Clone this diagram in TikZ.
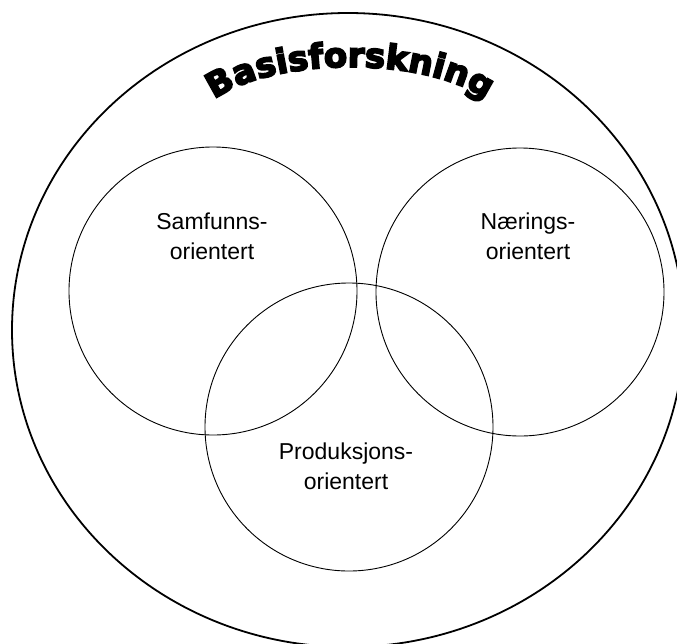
\documentclass[tikz,border=0pt]{standalone}
\usepackage{fontspec}
\setmainfont{Liberation Sans}
\newfontfamily\archfont{DejaVu Sans}[BoldFeatures={FakeBold=5}]
\usetikzlibrary{decorations.text}
\begin{document}
\begin{tikzpicture}[x=1pt,y=-1pt,
  outer/.style={line width=1.8pt},
  field/.style={circle, draw, line width=0.9pt, minimum size=288pt, inner sep=0pt},
  caption/.style={align=center, font=\fontsize{23}{30}\selectfont}]
\useasboundingbox (0,0) rectangle (677,643);
\clip (0,0) rectangle (677,643);
\fill[white] (0,0) rectangle (677,643);

% outer field: basic research
\draw[outer] (348,330) ellipse [x radius=336, y radius=317];

% arched title
\path[decorate, decoration={text along path, text align=center,
  text={|\archfont\bfseries\fontsize{34}{34}\selectfont|Basisforskning}}]
  (350,129) ++(198:154 and 62) arc[start angle=198, end angle=342, x radius=154, y radius=62];

% three overlapping fields
\node[field] (samf) at (213,291) {};
\node[field] (naer) at (520,292) {};
\node[field] (prod) at (349,427) {};

\node[caption] (samfT) at (212,236) {Samfunns-\\orientert};
\node[caption] (naerT) at (528,236) {Nærings-\\orientert};
\node[caption] (prodT) at (346,466) {Produksjons-\\orientert};
\end{tikzpicture}
\end{document}
